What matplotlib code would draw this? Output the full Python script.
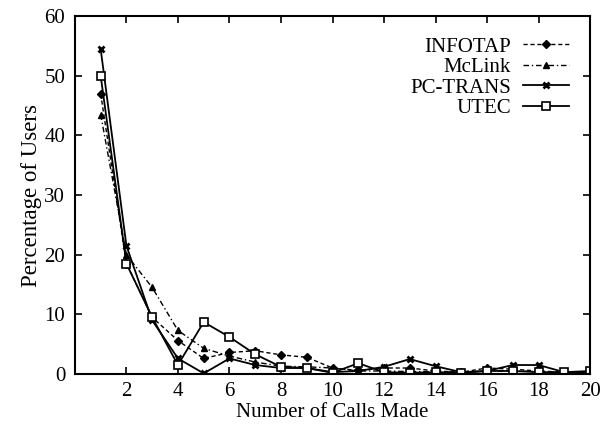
import matplotlib
matplotlib.use("Agg")
import matplotlib.pyplot as plt
import numpy as np

plt.rcParams['font.family'] = ['Liberation Serif', 'DejaVu Serif']

calls = list(range(1, 21))
infotap = [47, 18.5, 9.5, 5.6, 2.6, 3.6, 3.9, 3.2, 2.8, 1.0, 0.6, 1.0, 1.0, 0.5, 0.3, 1.0, 0.8, 0.5, 0.3, 0.3]
mclink = [43.5, 20, 14.5, 7.3, 4.3, 3.0, 2.0, 1.3, 1.2, 1.0, 0.5, 0.5, 0.4, 0.4, 0.3, 0.5, 0.5, 0.4, 0.3, 0.3]
pctrans = [54.5, 21.5, 9.0, 2.6, 0.1, 2.6, 1.5, 1.0, 1.0, 0.3, 0.5, 1.2, 2.5, 1.3, 0.3, 0.5, 1.5, 1.5, 0.3, 0.3]
utec = [50, 18.5, 9.5, 1.5, 8.7, 6.2, 3.3, 1.2, 1.0, 0.2, 1.8, 0.3, 0.2, 0.3, 0.2, 0.5, 0.5, 0.3, 0.3, 0.5]

fig = plt.figure(figsize=(6.04, 4.24), dpi=100)
ax = fig.add_axes([0.124, 0.118, 0.853, 0.844])

ax.plot(calls, infotap, color='black', lw=1.0, ls=(0, (3, 2)), marker='D', ms=3.8, label='INFOTAP')
ax.plot(calls, mclink, color='black', lw=1.0, ls=(0, (4, 2, 1, 2)), marker='^', ms=4.8, label='McLink')
ax.plot(calls, pctrans, color='black', lw=1.3, ls='-', marker='x', ms=5, mew=2.0, label='PC-TRANS')
ax.plot(calls, utec, color='black', lw=1.3, ls='-', marker='s', ms=5.5, mfc='white', mew=1.2, label='UTEC')

ax.set_xlim(0, 20)
ax.set_ylim(0, 60)
ax.set_xticks(np.arange(2, 21, 2))
ax.set_yticks(np.arange(0, 61, 10))
ax.tick_params(direction='in', top=True, right=True, labelsize=15, length=5, width=1.2)
ax.tick_params(axis='y', pad=7)
ax.tick_params(axis='x', pad=6)
for s in ax.spines.values():
    s.set_linewidth(1.5)

ax.set_xlabel('Number of Calls Made', fontsize=15, labelpad=1)
ax.set_ylabel('Percentage of Users', fontsize=16.5, labelpad=2)

ax.legend(loc='upper right', frameon=False, markerfirst=False, fontsize=15,
          handlelength=2.2, labelspacing=0.05, borderaxespad=0.6, handletextpad=0.6)

fig.savefig('out.png', dpi=100)
